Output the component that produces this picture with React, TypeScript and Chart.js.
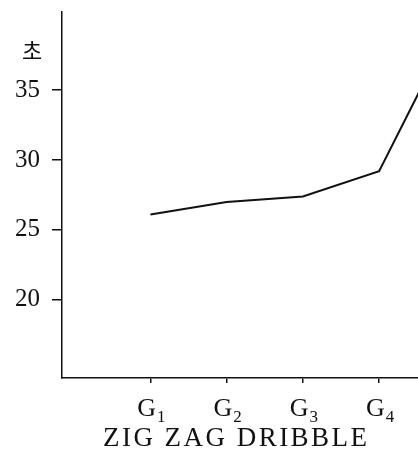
import React, { useEffect, useRef } from "react";
import { Chart, registerables } from "chart.js";

Chart.register(...registerables);

const categoryBase = ["G", "G", "G", "G", "G"];
const categorySubscripts = ["1", "2", "3", "4", "5"];
const xPositions = [1, 2, 3, 4, 5];
const seconds = [26.1, 27.0, 27.4, 29.2, 40.0];
const yTicks = [20, 25, 30, 35];
const yUnit = "초";
const chartTitle = "ZIG ZAG DRIBBLE";

const SERIF = "'Liberation Serif', 'Times New Roman', serif";

const labelPlugin = {
  id: "labelPlugin",
  afterDraw(chart: any) {
    const ctx = chart.ctx;
    const xs = chart.scales.x;
    ctx.save();
    ctx.fillStyle = "#111";
    ctx.textBaseline = "alphabetic";
    // x category labels with subscripts
    for (let i = 0; i < xPositions.length; i++) {
      const px = xs.getPixelForValue(xPositions[i]);
      if (px > chart.chartArea.right) continue;
      ctx.font = `26px ${SERIF}`;
      const wBase = ctx.measureText(categoryBase[i]).width;
      ctx.font = `17px ${SERIF}`;
      const wSub = ctx.measureText(categorySubscripts[i]).width;
      const total = wBase + 1 + wSub;
      const x0 = px - total / 2 + 1;
      ctx.textAlign = "left";
      ctx.font = `26px ${SERIF}`;
      ctx.fillText(categoryBase[i], x0, 416);
      ctx.font = `17px ${SERIF}`;
      ctx.fillText(categorySubscripts[i], x0 + wBase + 1, 422);
    }
    // unit label
    ctx.font = "22px 'Noto Sans CJK KR', sans-serif";
    ctx.textAlign = "center";
    ctx.textBaseline = "middle";
    ctx.fillText(yUnit, 32, 51);
    // title
    ctx.font = `27px ${SERIF}`;
    ctx.textBaseline = "alphabetic";
    ctx.textAlign = "left";
    const targetW = 264;
    const plainW = ctx.measureText(chartTitle).width;
    const gaps = chartTitle.length - 1;
    const ls = Math.max(0, (targetW - plainW) / gaps);
    (ctx as any).letterSpacing = `${ls}px`;
    ctx.fillText(chartTitle, 103, 446);
    (ctx as any).letterSpacing = "0px";
    ctx.restore();
  },
};

export default function App() {
  const ref = useRef<HTMLCanvasElement | null>(null);
  useEffect(() => {
    if (!ref.current) return;
    const chart = new Chart(ref.current, {
      type: "line",
      data: {
        datasets: [
          {
            data: xPositions.map((x, i) => ({ x, y: seconds[i] })),
            borderColor: "#111",
            borderWidth: 2,
            pointRadius: 0,
            tension: 0,
            fill: false,
          },
        ],
      },
      options: {
        animation: false,
        responsive: false,
        devicePixelRatio: 1,
        layout: { padding: { top: 12, left: 0, right: 0, bottom: 0 } },
        plugins: {
          legend: { display: false },
          tooltip: { enabled: false },
          title: { display: false },
        },
        scales: {
          x: {
            type: "linear",
            min: -0.16,
            max: 4.51,
            afterBuildTicks: (scale: any) => {
              scale.ticks = xPositions
                .filter((v) => v <= scale.max)
                .map((v) => ({ value: v }));
            },
            afterFit: (scale: any) => {
              scale.height = 86;
              scale.paddingLeft = 0;
              scale.paddingRight = 0;
            },
            grid: {
              display: true,
              drawOnChartArea: false,
              drawTicks: true,
              tickLength: 5,
              color: "#111",
              lineWidth: 1.5,
            },
            border: { display: true, color: "#111", width: 1.5 },
            ticks: {
              callback: () => "",
              font: { size: 1 },
            },
          },
          y: {
            type: "linear",
            min: 14.4,
            max: 40.6,
            afterBuildTicks: (scale: any) => {
              scale.ticks = yTicks.map((v) => ({ value: v }));
            },
            afterFit: (scale: any) => {
              scale.width = 62;
              scale.paddingTop = 0;
              scale.paddingBottom = 0;
            },
            grid: {
              display: true,
              drawOnChartArea: false,
              drawTicks: true,
              tickLength: 10,
              color: "#111",
              lineWidth: 1.5,
            },
            border: { display: true, color: "#111", width: 1.5 },
            ticks: {
              color: "#111",
              padding: 12,
              font: { family: SERIF, size: 25, lineHeight: 1 },
              callback: (v: any) => String(v),
            },
          },
        },
      },
      plugins: [labelPlugin],
    } as any);
    return () => chart.destroy();
  }, []);
  return (
    <div style={{ position: "absolute", left: 0, top: 0, width: 418, height: 464, background: "#fff" }}>
      <canvas ref={ref} width={418} height={464} />
    </div>
  );
}
